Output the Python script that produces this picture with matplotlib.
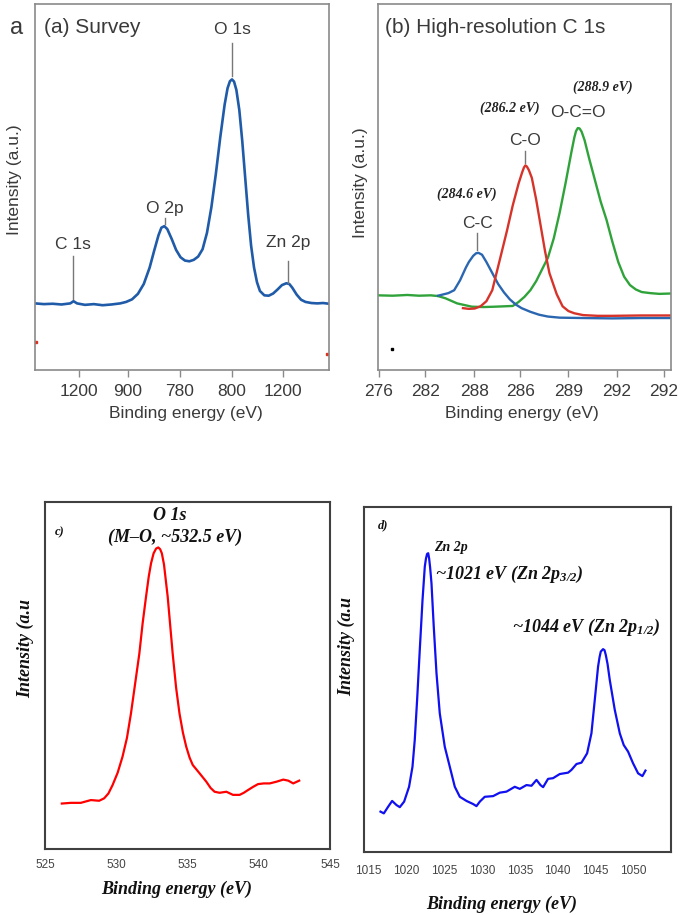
import matplotlib
matplotlib.use("Agg")
import matplotlib.pyplot as plt

W, H = 680, 915

# ---- (a) survey: x in axis-percent units, odd tick labels as printed
survey_x = [0, 3, 6, 9, 12, 13.1, 14.3, 17, 20, 23, 26, 29, 31, 33, 35, 37, 39, 40.5, 42, 43,
            44, 45, 46.5, 48, 49.5, 51, 52.5, 54, 55.5, 57, 58.5, 60, 61.5, 63, 64.5, 65.5,
            66.3, 67.0, 67.7, 68.5, 69.5, 70.5, 71.5, 72.5, 73.5, 74.5, 75.5, 76.5, 78, 79.5, 81,
            82.5, 84, 85.5, 86.5, 87.5, 89, 90.5, 92, 94, 96, 98, 100]
survey_y = [18.2, 18.0, 18.1, 17.9, 18.2, 18.8, 18.2, 17.8, 18.0, 17.7, 17.9, 18.2, 18.6, 19.3,
            20.8, 23.5, 28.0, 32.5, 36.8, 38.9, 39.3, 38.5, 35.8, 32.8, 30.8, 29.9, 29.7, 30.1,
            31.0, 33.0, 37.5, 44.5, 53.5, 63.5, 72.5, 77.0, 78.9, 79.4, 78.8, 76.5, 71.0, 62.5,
            52.5, 42.5, 34.0, 28.0, 24.0, 21.6, 20.4, 20.3, 20.9, 22.0, 23.2, 23.7, 23.5, 22.5,
            20.6, 19.2, 18.6, 18.3, 18.2, 18.3, 18.1]
survey_ticks = [14.8, 31.6, 49.2, 67.0, 84.4]
survey_labels = ["1200", "900", "780", "800", "1200"]

# ---- (b) C 1s components
cc_x = [20.5, 22, 24, 26, 28, 30, 31, 32.5, 33.5, 34.3, 35.5, 37, 39, 41, 43, 45, 47, 49, 52,
        55, 58, 62, 70, 80, 90, 100]
cc_y = [20.3, 20.6, 21.0, 21.8, 24.5, 28.0, 29.5, 31.2, 31.9, 32.0, 31.5, 29.5, 26.5, 23.5,
        21.2, 19.3, 17.9, 16.9, 15.9, 15.1, 14.6, 14.3, 14.2, 14.1, 14.2, 14.2]
co_x = [29, 31, 33, 35, 37, 39, 42, 44, 46, 48, 49.2, 49.8, 50.3, 50.8, 51.5, 52.5, 54, 55.5,
        57, 58.5, 60, 61, 63, 65, 67, 70, 75, 80, 90, 100]
co_y = [16.9, 16.7, 16.8, 17.4, 18.8, 21.8, 31.5, 38.0, 45.0, 51.0, 54.0, 55.3, 55.9, 55.6,
        54.6, 52.5, 46.5, 39.5, 32.5, 26.5, 23.0, 20.7, 17.4, 16.1, 15.5, 15.0, 14.8, 14.8,
        14.9, 14.9]
oco_x = [0, 5, 10, 14, 18, 20.5, 23, 27, 32, 36, 40, 46, 48, 50, 52, 54, 56, 58, 60, 62, 64,
         66, 67, 67.6, 68.2, 68.8, 69.5, 70.5, 72, 74, 76, 78, 80, 82, 84, 86, 88, 90, 93, 96,
         100]
oco_y = [20.4, 20.3, 20.5, 20.3, 20.4, 20.2, 19.6, 18.2, 17.3, 17.2, 17.3, 17.5, 18.6, 20.0,
         21.8, 24.3, 27.5, 30.7, 36.0, 43.0, 51.0, 59.5, 63.5, 65.3, 66.1, 66.0, 65.1, 62.8,
         58.0, 52.0, 46.0, 41.0, 35.0, 29.5, 25.5, 23.2, 22.0, 21.3, 21.0, 20.8, 20.9]
c1s_ticks = [0.2, 16.2, 32.8, 48.6, 65.0, 81.4, 97.6]
c1s_labels = ["276", "282", "288", "286", "289", "292", "292"]

# ---- (c) O 1s
o1s_ev = [526.18, 526.81, 527.51, 528.22, 528.80, 529.15, 529.45, 529.74, 530.10, 530.44,
          530.75, 531.03, 531.32, 531.62, 531.85, 532.09, 532.28, 532.44, 532.62, 532.80,
          532.95, 533.08, 533.20, 533.35, 533.61, 533.96, 534.20, 534.44, 534.68, 534.91,
          535.15, 535.37, 535.85, 536.32, 536.62, 536.90, 537.25, 537.73, 538.19, 538.66,
          538.95, 539.25, 539.60, 539.95, 540.35, 540.77, 541.25, 541.72, 542.07, 542.42,
          542.84]
o1s_int = [13.1, 13.3, 13.3, 14.1, 13.9, 14.6, 16.0, 18.4, 22.0, 26.6, 32.0, 39.0, 47.5, 56.3,
           65.0, 72.7, 78.5, 82.3, 85.2, 86.6, 86.9, 86.4, 85.2, 82.0, 72.7, 56.3, 46.5, 39.0,
           33.5, 29.5, 26.3, 24.2, 21.8, 19.4, 17.6, 16.5, 16.2, 16.5, 15.6, 15.6, 16.2, 17.0,
           17.9, 18.7, 18.9, 18.9, 19.4, 20.0, 19.7, 18.9, 19.7]

# ---- (d) Zn 2p
zn_ev = [1016.67, 1017.11, 1017.67, 1018.20, 1018.78, 1019.21, 1019.78, 1020.43, 1020.88,
         1021.18, 1021.49, 1021.84, 1022.20, 1022.50, 1022.65, 1022.80, 1022.95, 1023.07,
         1023.20, 1023.38, 1023.68, 1024.04, 1024.47, 1025.13, 1025.79, 1026.45, 1027.11,
         1027.99, 1028.86, 1029.30, 1029.74, 1030.39, 1031.49, 1032.37, 1033.25, 1034.34,
         1035.00, 1035.88, 1036.54, 1037.20, 1037.72, 1038.07, 1038.72, 1039.38, 1040.26,
         1041.36, 1041.80, 1042.46, 1043.12, 1043.86, 1044.43, 1044.87, 1045.30, 1045.50,
         1045.66, 1045.96, 1046.15, 1046.32, 1046.55, 1046.84, 1047.50, 1048.16, 1048.68,
         1049.25, 1049.91, 1050.57, 1051.14, 1051.54]
zn_int = [11.7, 11.2, 13.1, 14.8, 13.6, 13.0, 14.6, 18.9, 24.7, 32.5, 44.1, 58.6, 73.0, 82.7,
          85.0, 86.4, 86.6, 85.1, 82.5, 77.9, 65.3, 51.8, 40.2, 30.5, 24.7, 18.9, 16.0, 14.8,
          13.9, 13.3, 14.6, 16.0, 16.2, 17.2, 17.5, 18.9, 18.3, 19.4, 19.2, 20.9, 19.4, 18.8,
          21.2, 21.4, 22.6, 23.0, 23.8, 25.5, 25.9, 28.6, 34.4, 44.1, 53.7, 56.5, 58.1, 58.8,
          58.5, 57.1, 54.5, 49.9, 41.2, 34.4, 31.0, 29.1, 25.7, 22.8, 22.0, 23.6]
zn_ticks = [1015, 1020, 1025, 1030, 1035, 1040, 1045, 1050]

SANS = "Liberation Sans"
SERIF = "Liberation Serif"
GREY = "#3a3a3a"
plt.rcParams["mathtext.fontset"] = "custom"
plt.rcParams["mathtext.rm"] = "Liberation Serif:bold:italic"
plt.rcParams["mathtext.it"] = "Liberation Serif:bold:italic"

fig = plt.figure(figsize=(W / 100, H / 100), dpi=100)


def box(l, t, r, b):
    return fig.add_axes([l / W, 1 - b / H, (r - l) / W, (b - t) / H])


def ftext(x, y, s, **kw):
    fig.text(x / W, 1 - y / H, s, **kw)


def sans_panel(ax, ticks, labels):
    ax.set_xlim(0, 100)
    ax.set_ylim(0, 100)
    for sp in ax.spines.values():
        sp.set_color("#8a8a8a")
        sp.set_linewidth(1.2)
    ax.set_yticks([])
    ax.set_xticks(ticks)
    ax.set_xticklabels(labels, fontsize=12.5, family=SANS, color=GREY)
    ax.tick_params(axis="x", direction="out", length=5, width=1, color="#8a8a8a", pad=5)


# (a)
ax = box(35, 4, 329, 370)
sans_panel(ax, survey_ticks, survey_labels)
ax.plot(survey_x, survey_y, color="#1f5ba8", lw=1.9)
ax.plot([0.3, 99.4], [7.7, 4.4], "s", color="#e03020", ms=1.5)
sann = [("O 1s", 67.0, 92.9, 89.3, 80.3), ("O 2p", 44.2, 44.1, 41.4, 40.0),
        ("C 1s", 12.9, 34.2, 31.2, 19.5), ("Zn 2p", 86.1, 34.8, 29.9, 23.8)]
for s, x, ty, y0, y1 in sann:
    ax.text(x, ty, s, ha="center", va="center", fontsize=12.5, family=SANS, color=GREY)
    ax.plot([x, x], [y0, y1], color="#777777", lw=1)
ax.text(3, 93.5, "(a) Survey", ha="left", va="center", fontsize=15, family=SANS, color=GREY)
ftext(17, 28, "a", ha="center", va="center", fontsize=17, family=SANS, color=GREY)
ftext(15, 180, "Intensity (a.u.)", rotation=90, ha="center", va="center", fontsize=12.5,
      family=SANS, color=GREY)
ftext(186, 414, "Binding energy (eV)", ha="center", va="center", fontsize=12.5, family=SANS,
      color=GREY)

# (b)
ax = box(378, 4, 671, 370)
sans_panel(ax, c1s_ticks, c1s_labels)
ax.plot(oco_x, oco_y, color="#2fa33a", lw=1.7)
ax.plot(cc_x, cc_y, color="#2b66b0", lw=1.7)
ax.plot(co_x, co_y, color="#d6342a", lw=1.7)
ax.plot([4.8], [5.8], "s", color="black", ms=2)
bann = [("C-C", 33.8, 40.0, 37.3, 32.9), ("C-O", 50.2, 62.7, 59.7, 56.6)]
for s, x, ty, y0, y1 in bann:
    ax.text(x, ty, s, ha="center", va="center", fontsize=12.5, family=SANS, color=GREY)
    ax.plot([x, x], [y0, y1], color="#777777", lw=1)
ax.text(68.3, 70.4, "O-C=O", ha="center", va="center", fontsize=12.5, family=SANS, color=GREY)
for s, x, y in [("(284.6 eV)", 30.4, 47.9), ("(286.2 eV)", 45.1, 71.5), ("(288.9 eV)", 76.8, 77.3)]:
    ax.text(x, y, s, ha="center", va="center", fontsize=10, family=SERIF, style="italic",
            weight="bold", color="#222222")
ax.text(2.5, 93.5, "(b) High-resolution C 1s", ha="left", va="center", fontsize=15,
        family=SANS, color=GREY)
ftext(360, 183, "Intensity (a.u.)", rotation=90, ha="center", va="center", fontsize=12.5,
      family=SANS, color=GREY)
ftext(522, 414, "Binding energy (eV)", ha="center", va="center", fontsize=12.5, family=SANS,
      color=GREY)


def serif_panel(ax, xlim, ticks, pad):
    ax.set_xlim(*xlim)
    ax.set_ylim(0, 100)
    for sp in ax.spines.values():
        sp.set_color("#404040")
        sp.set_linewidth(1.5)
    ax.set_yticks([])
    ax.set_xticks(ticks)
    ax.set_xticklabels([str(t) for t in ticks], fontsize=8.5, family=SANS, color="#444444")
    ax.tick_params(axis="x", length=0, pad=pad)


BI = dict(family=SERIF, style="italic", weight="bold", color="#111111")

# (c)
ax = box(45, 502, 330, 849)
serif_panel(ax, (525, 545), [525, 530, 535, 540, 545], 7)
ax.plot(o1s_ev, o1s_int, color="#ff0000", lw=1.6)
ftext(60, 532, "c)", ha="center", va="center", fontsize=9, **BI)
ftext(170, 515, "O 1s", ha="center", va="center", fontsize=13, **BI)
ftext(175, 537, "(M\u2013O, ~532.5 eV)", ha="center", va="center", fontsize=13, **BI)
ftext(26, 648, "Intensity (a.u", rotation=90, ha="center", va="center", fontsize=13, **BI)
ftext(177, 889, "Binding energy (eV)", ha="center", va="center", fontsize=13, **BI)

# (d)
ax = box(364, 507, 671, 852)
serif_panel(ax, (1014.5, 1054.9), zn_ticks, 9)
ax.plot(zn_ev, zn_int, color="#1010f0", lw=1.6)
ftext(383, 525, "d)", ha="center", va="center", fontsize=9, **BI)
ftext(434, 548, "Zn 2p", ha="left", va="center", fontsize=10, **BI)
ftext(435, 574, "~1021 eV (Zn 2p$_{3/2}$)", ha="left", va="center", fontsize=13, **BI)
ftext(512, 627, "~1044 eV (Zn 2p$_{1/2}$)", ha="left", va="center", fontsize=13, **BI)
ftext(347, 647, "Intensity (a.u", rotation=90, ha="center", va="center", fontsize=13, **BI)
ftext(502, 904, "Binding energy (eV)", ha="center", va="center", fontsize=13, **BI)

fig.savefig("out.png", dpi=100)
